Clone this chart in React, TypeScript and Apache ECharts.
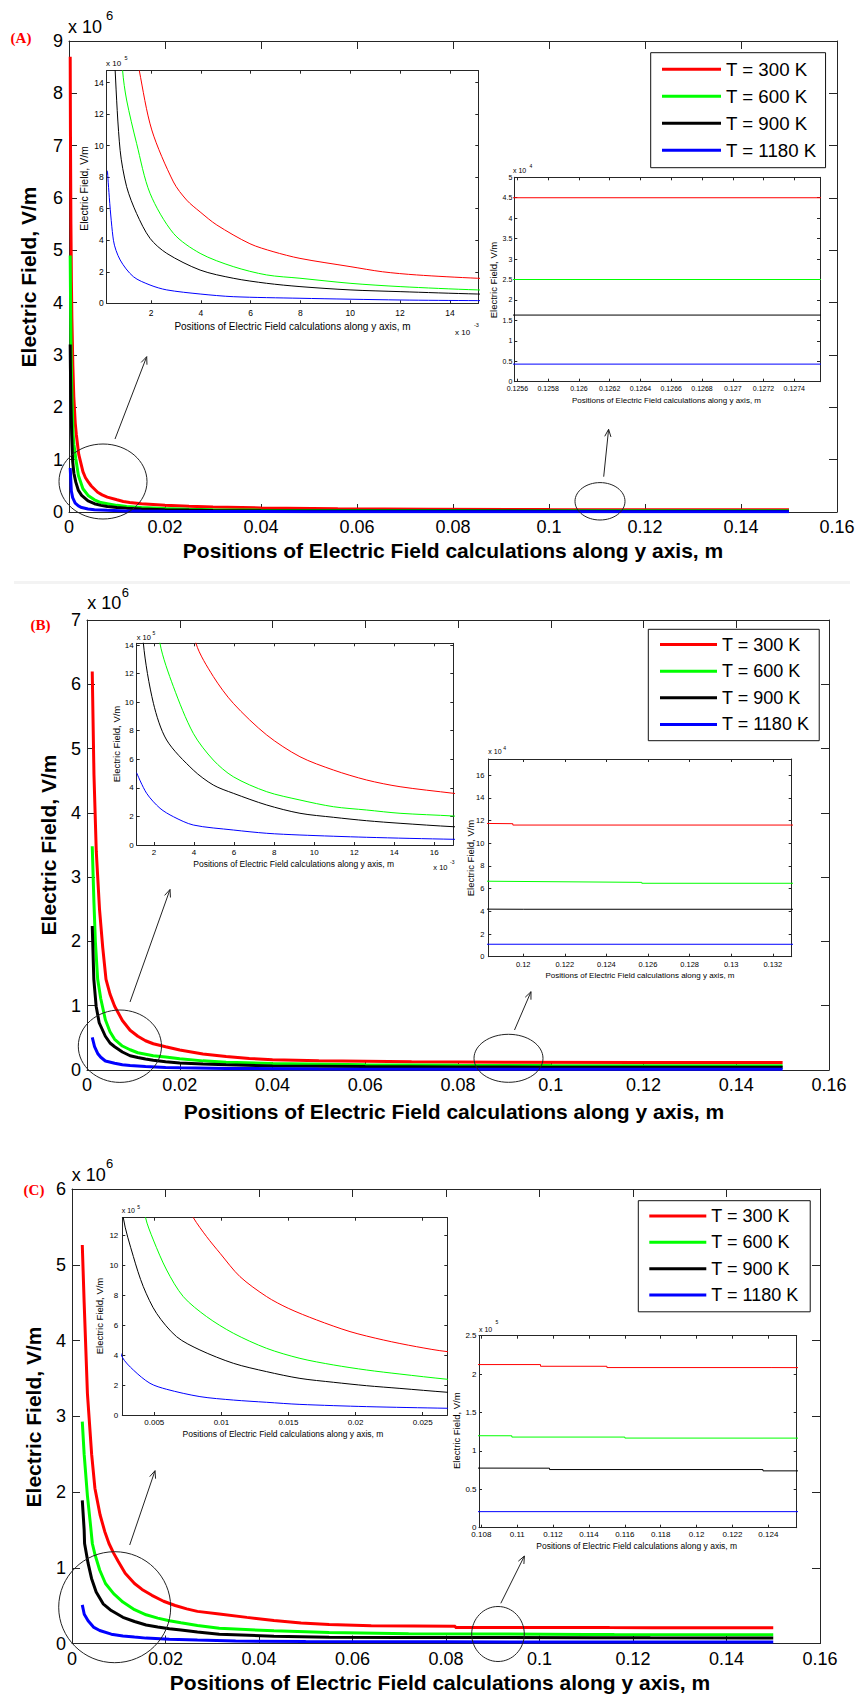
import React, { useEffect, useRef } from 'react';
import * as echarts from 'echarts';

type Pt = [number, number];

// Legend entries and line colours (one per temperature)
const SERIES_NAMES = ['T = 300 K', 'T = 600 K', 'T = 900 K', 'T = 1180 K'];
const SERIES_COLORS = ['#ff0000', '#00ff00', '#000000', '#0000ff'];

// ---------- Panel (A): position along y (m) vs electric field (V/m) ----------
const A_T300: Pt[] = [
  [0.00025, 8.7e6], [0.0003, 7.3e6], [0.0004, 5.5e6], [0.0005, 4.4e6], [0.0006, 3.7e6],
  [0.0008, 2.8e6], [0.001, 2.2e6], [0.0013, 1.7e6], [0.00153, 1.476e6], [0.00203, 1.1e6],
  [0.0029, 7.7e5], [0.00343, 6.55e5], [0.00397, 5.8e5], [0.00464, 4.97e5], [0.00597, 3.78e5],
  [0.0069, 3.28e5], [0.00798, 2.85e5], [0.00999, 2.33e5], [0.0113, 2.0e5], [0.01266, 1.8e5],
  [0.0151, 1.59e5], [0.02, 1.3e5], [0.025, 1.1e5], [0.03, 9.5e4], [0.04, 7.8e4],
  [0.056, 6.3e4], [0.075, 5.4e4], [0.1, 4.75e4], [0.115, 4.5e4], [0.15, 4.5e4],
];
const A_T600: Pt[] = [
  [0.00025, 4.9e6], [0.0003, 4.3e6], [0.0004, 3.3e6], [0.0005, 2.7e6], [0.0006, 2.25e6],
  [0.00086, 1.476e6], [0.00102, 1.29e6], [0.00142, 1.015e6], [0.00196, 6.98e5], [0.0029, 4.44e5],
  [0.00397, 3.17e5], [0.0053, 2.33e5], [0.00664, 1.8e5], [0.00798, 1.59e5], [0.00999, 1.27e5],
  [0.012, 1.06e5], [0.0151, 8.5e4], [0.02, 6.5e4], [0.025, 5.2e4], [0.03, 4.4e4],
  [0.04, 3.5e4], [0.06, 3.0e4], [0.08, 2.7e4], [0.11, 2.5e4], [0.15, 2.5e4],
];
const A_T900: Pt[] = [
  [0.00025, 3.2e6], [0.0003, 2.75e6], [0.0004, 2.1e6], [0.00056, 1.476e6], [0.00076, 9.7e5],
  [0.00102, 7.4e5], [0.00142, 5.7e5], [0.00196, 4.12e5], [0.00263, 3.17e5], [0.00397, 2.11e5],
  [0.0053, 1.59e5], [0.00664, 1.27e5], [0.00798, 1.06e5], [0.00999, 8.5e4], [0.012, 7.4e4],
  [0.0151, 5.9e4], [0.02, 4.5e4], [0.025, 3.6e4], [0.03, 3.0e4], [0.04, 2.4e4],
  [0.06, 1.9e4], [0.08, 1.7e4], [0.11, 1.63e4], [0.15, 1.63e4],
];
const A_T1180: Pt[] = [
  [0.00025, 8.41e5], [0.00049, 4.0e5], [0.00076, 2.75e5], [0.00129, 1.69e5], [0.00196, 1.16e5],
  [0.00263, 8.5e4], [0.00397, 5.9e4], [0.0053, 4.2e4], [0.00798, 3.2e4], [0.012, 2.1e4],
  [0.0151, 1.7e4], [0.02, 1.3e4], [0.03, 9e3], [0.05, 6e3], [0.08, 4.8e3],
  [0.11, 4.3e3], [0.15, 4.3e3],
];

// ---------- Panel (B) ----------
const B_T300: Pt[] = [
  [0.00113, 6.2e6], [0.0015, 4.6e6], [0.002, 3.4e6], [0.0027, 2.5e6], [0.0034, 1.9e6],
  [0.0041, 1.41e6], [0.00496, 1.18e6], [0.00596, 9.92e5], [0.00763, 7.7e5], [0.00929, 6.18e5],
  [0.01096, 5.25e5], [0.01262, 4.55e5], [0.01429, 4.08e5], [0.01695, 3.62e5], [0.02, 3.1e5],
  [0.025, 2.5e5], [0.03, 2.1e5], [0.035, 1.8e5], [0.04, 1.6e5], [0.05, 1.45e5],
  [0.07, 1.3e5], [0.09, 1.22e5], [0.1195, 1.172e5], [0.1195, 1.16e5], [0.15, 1.16e5],
];
const B_T600: Pt[] = [
  [0.00113, 3.48e6], [0.0015, 2.6e6], [0.0018, 2.0e6], [0.0023, 1.41e6], [0.00297, 1.108e6],
  [0.00396, 7.82e5], [0.00496, 5.95e5], [0.00596, 4.78e5], [0.00763, 3.73e5], [0.00929, 3.15e5],
  [0.01096, 2.68e5], [0.01262, 2.45e5], [0.01429, 2.22e5], [0.01695, 2.03e5], [0.02, 1.75e5],
  [0.025, 1.42e5], [0.03, 1.2e5], [0.04, 1.0e5], [0.06, 8.3e4], [0.08, 7.3e4],
  [0.1, 6.9e4], [0.1257, 6.55e4], [0.1257, 6.47e4], [0.15, 6.47e4],
];
const B_T900: Pt[] = [
  [0.00113, 2.24e6], [0.00147, 1.41e6], [0.00197, 9.92e5], [0.00263, 7.35e5], [0.00396, 5.25e5],
  [0.00496, 4.2e5], [0.00596, 3.62e5], [0.00763, 2.8e5], [0.00929, 2.22e5], [0.01096, 1.94e5],
  [0.01262, 1.7e5], [0.01429, 1.52e5], [0.01695, 1.28e5], [0.02, 1.1e5], [0.025, 9.2e4],
  [0.03, 8.0e4], [0.04, 6.4e4], [0.06, 5.3e4], [0.08, 4.7e4], [0.1, 4.3e4],
  [0.12, 4.18e4], [0.15, 4.18e4],
];
const B_T1180: Pt[] = [
  [0.00113, 5.06e5], [0.00163, 3.62e5], [0.0023, 2.57e5], [0.00297, 1.98e5], [0.00396, 1.4e5],
  [0.00596, 1.05e5], [0.00763, 8.2e4], [0.00929, 7.0e4], [0.01262, 5.4e4], [0.01695, 4.0e4],
  [0.02, 3.5e4], [0.03, 2.5e4], [0.05, 1.7e4], [0.08, 1.3e4], [0.11, 1.1e4], [0.15, 1.09e4],
];

// ---------- Panel (C) ----------
const C_T300: Pt[] = [
  [0.0022, 5.26e6], [0.0026, 4.5e6], [0.0033, 3.3e6], [0.0042, 2.5e6], [0.0049, 2.05e6],
  [0.006, 1.7e6], [0.007, 1.48e6], [0.00791, 1.32e6], [0.0089, 1.193e6], [0.0099, 1.082e6],
  [0.01138, 9.26e5], [0.01337, 7.92e5], [0.01498, 7.14e5], [0.01709, 6.36e5], [0.01958, 5.58e5],
  [0.02206, 5.02e5], [0.02454, 4.57e5], [0.02683, 4.24e5], [0.0315, 3.9e5], [0.0374, 3.45e5],
  [0.0432, 3.05e5], [0.049, 2.7e5], [0.055, 2.52e5], [0.064, 2.35e5], [0.082, 2.28e5],
  [0.082, 2.124e5], [0.1113, 2.124e5], [0.1113, 2.102e5], [0.115, 2.102e5], [0.115, 2.085e5],
  [0.1242, 2.085e5], [0.1242, 2.076e5], [0.15, 2.07e5],
];
const C_T600: Pt[] = [
  [0.0022, 2.93e6], [0.0026, 2.5e6], [0.0033, 1.95e6], [0.0039, 1.6e6], [0.00435, 1.32e6],
  [0.00493, 1.171e6], [0.00592, 9.7e5], [0.00716, 7.92e5], [0.0089, 6.58e5], [0.01089, 5.47e5],
  [0.01337, 4.46e5], [0.01585, 3.79e5], [0.01834, 3.35e5], [0.02082, 3.01e5], [0.0233, 2.74e5],
  [0.02683, 2.39e5], [0.0315, 2.0e5], [0.0432, 1.67e5], [0.055, 1.45e5], [0.072, 1.3e5],
  [0.072, 1.21e5], [0.1097, 1.197e5], [0.1097, 1.18e5], [0.116, 1.18e5], [0.116, 1.167e5],
  [0.15, 1.165e5],
];
const C_T900: Pt[] = [
  [0.0022, 1.89e6], [0.0026, 1.5e6], [0.00269, 1.32e6], [0.00344, 1.06e6], [0.00418, 8.59e5],
  [0.00517, 6.8e5], [0.00666, 5.24e5], [0.0084, 4.35e5], [0.01089, 3.46e5], [0.01337, 2.9e5],
  [0.01585, 2.45e5], [0.01834, 2.19e5], [0.02082, 1.96e5], [0.0233, 1.78e5], [0.02683, 1.52e5],
  [0.0315, 1.23e5], [0.0432, 9.7e4], [0.055, 8.2e4], [0.07, 7.85e4], [0.1118, 7.75e4],
  [0.1118, 7.57e4], [0.1237, 7.57e4], [0.1237, 7.4e4], [0.15, 7.4e4],
];
const C_T1180: Pt[] = [
  [0.0022, 5.1e5], [0.00262, 3.86e5], [0.00344, 3.01e5], [0.00468, 2.12e5], [0.00592, 1.72e5],
  [0.0084, 1.23e5], [0.01089, 1.0e5], [0.01337, 8.5e4], [0.01585, 7.1e4], [0.02082, 5.6e4],
  [0.02683, 4.5e4], [0.035, 3.2e4], [0.05, 2.5e4], [0.08, 2.2e4], [0.1, 2.09e4], [0.15, 2.09e4],
];

const PANEL_A = [A_T300, A_T600, A_T900, A_T1180];
const PANEL_B = [B_T300, B_T600, B_T900, B_T1180];
const PANEL_C = [C_T300, C_T600, C_T900, C_T1180];

const FONT = 'Liberation Sans, Arial, Helvetica, sans-serif';
const SERIF = 'Liberation Serif, Times New Roman, serif';
const AXIS_COLOR = '#262626';
const X_TITLE = 'Positions of Electric Field calculations along y axis, m';
const Y_TITLE = 'Electric Field, V/m';

interface PlotSpec {
  rect: [number, number, number, number];
  x: [number, number, number];
  y: [number, number, number];
  sx: number;
  sy: number;
  lineWidth: number;
  smooth: number | false;
  font: number;
  xMargin: number;
  yMargin: number;
  tick: number;
  data: Pt[][];
}

const PLOTS: PlotSpec[] = [
  // (A) main, zoom near origin, zoom on the tail
  { rect: [69, 41, 768, 471], x: [0, 0.16, 0.02], y: [0, 9, 1], sx: 1, sy: 1e-6, lineWidth: 3, smooth: false, font: 18, xMargin: 6, yMargin: 6, tick: 8, data: PANEL_A },
  { rect: [106.7, 70.7, 371.6, 232.6], x: [0.22, 15.14, 2], y: [0, 14.76, 2], sx: 1e3, sy: 1e-5, lineWidth: 1, smooth: 0.3, font: 8.5, xMargin: 5, yMargin: 3, tick: 3, data: PANEL_A },
  { rect: [514.3, 177.3, 305.7, 204.4], x: [0.12558, 0.127567, 0.0002], y: [0, 5, 0.5], sx: 1, sy: 1e-4, lineWidth: 1, smooth: false, font: 7, xMargin: 3, yMargin: 2, tick: 3, data: PANEL_A },
  // (B)
  { rect: [87, 620, 742, 450], x: [0, 0.16, 0.02], y: [0, 7, 1], sx: 1, sy: 1e-6, lineWidth: 3, smooth: false, font: 18, xMargin: 6, yMargin: 6, tick: 8, data: PANEL_B },
  { rect: [136.7, 643.3, 316.6, 201.7], x: [1.135, 16.95, 2], y: [0, 14.12, 2], sx: 1e3, sy: 1e-5, lineWidth: 1, smooth: 0.3, font: 8, xMargin: 3, yMargin: 3, tick: 3, data: PANEL_B },
  { rect: [488.3, 759, 303.4, 197.7], x: [0.11832, 0.13291, 0.002], y: [0, 17.42, 2], sx: 1, sy: 1e-4, lineWidth: 1, smooth: false, font: 7.5, xMargin: 4, yMargin: 4, tick: 3, data: PANEL_B },
  // (C)
  { rect: [72, 1189, 748, 454.5], x: [0, 0.16, 0.02], y: [0, 6, 1], sx: 1, sy: 1e-6, lineWidth: 3, smooth: false, font: 18, xMargin: 6, yMargin: 6, tick: 8, data: PANEL_C },
  { rect: [122.3, 1217.7, 325, 197.3], x: [0.002616, 0.02683, 0.005], y: [0, 13.2, 2], sx: 1, sy: 1e-5, lineWidth: 1, smooth: 0.3, font: 8, xMargin: 3, yMargin: 4, tick: 3, data: PANEL_C },
  { rect: [479, 1335.7, 317.7, 192], x: [0.10787, 0.12558, 0.002], y: [0, 2.5, 0.5], sx: 1, sy: 1e-5, lineWidth: 1, smooth: false, font: 8, xMargin: 3, yMargin: 2.5, tick: 3, data: PANEL_C },
];

const isMultiple = (v: number, step: number) => Math.abs(v / step - Math.round(v / step)) < 1e-6;

function valueAxis(gridIndex: number, position: string, range: [number, number, number], p: PlotSpec, labels: boolean, isX: boolean) {
  const [min, max, step] = range;
  return {
    type: 'value',
    gridIndex,
    position,
    min,
    max,
    minInterval: step,
    maxInterval: step,
    splitNumber: Math.round((max - min) / step),
    axisLine: { show: true, onZero: false, lineStyle: { color: AXIS_COLOR, width: 1 } },
    axisTick: { show: true, inside: true, length: p.tick, lineStyle: { color: AXIS_COLOR, width: 1 } },
    axisLabel: {
      show: labels,
      color: '#000',
      fontFamily: FONT,
      fontSize: p.font,
      margin: isX ? p.xMargin : p.yMargin,
      showMinLabel: isMultiple(min, step),
      showMaxLabel: isMultiple(max, step),
      hideOverlap: false,
    },
    splitLine: { show: false },
  };
}

function text(t: string, x: number, y: number, size: number, o: any = {}) {
  const align = o.align || 'center';
  return {
    type: 'text',
    x,
    y,
    rotation: o.rotate ? Math.PI / 2 : 0,
    silent: true,
    z: 10,
    style: {
      text: t,
      fontSize: size,
      fontFamily: o.family || FONT,
      fontWeight: o.bold ? 'bold' : 'normal',
      fill: o.color || '#000',
      textAlign: align,
      align,
      textVerticalAlign: 'middle',
      verticalAlign: 'middle',
    },
  };
}

function ellipse(cx: number, cy: number, rx: number, ry: number) {
  return {
    type: 'ellipse',
    silent: true,
    z: 10,
    shape: { cx, cy, rx, ry },
    style: { fill: 'none', stroke: '#222', lineWidth: 1 },
  };
}

function arrow(x1: number, y1: number, x2: number, y2: number) {
  const ang = Math.atan2(y2 - y1, x2 - x1);
  const len = 8;
  const spread = 0.4;
  const h1: Pt = [x2 - len * Math.cos(ang - spread), y2 - len * Math.sin(ang - spread)];
  const h2: Pt = [x2 - len * Math.cos(ang + spread), y2 - len * Math.sin(ang + spread)];
  return [
    { type: 'line', silent: true, z: 10, shape: { x1, y1, x2, y2 }, style: { stroke: '#222', lineWidth: 1 } },
    { type: 'polyline', silent: true, z: 10, shape: { points: [h1, [x2, y2], h2] }, style: { stroke: '#222', lineWidth: 1, fill: 'none' } },
  ];
}

function legend(left: number, top: number, fontSize: number, rowH: number, iconW: number, padding: number[]) {
  return {
    show: true,
    data: SERIES_NAMES,
    orient: 'vertical',
    left,
    top,
    padding,
    itemGap: 0,
    itemWidth: iconW,
    itemHeight: 3,
    icon: 'rect',
    selectedMode: false,
    borderColor: '#111',
    borderWidth: 1,
    backgroundColor: '#fff',
    textStyle: { fontSize, fontFamily: FONT, color: '#000', lineHeight: rowH },
  };
}

function buildOption() {
  const grid: any[] = [];
  const xAxis: any[] = [];
  const yAxis: any[] = [];
  const series: any[] = [];

  PLOTS.forEach((p, gi) => {
    const [left, top, width, height] = p.rect;
    grid.push({ left, top, width, height, containLabel: false, outerBoundsMode: 'none', show: false });
    xAxis.push(valueAxis(gi, 'bottom', p.x, p, true, true));
    xAxis.push(valueAxis(gi, 'top', p.x, p, false, true));
    yAxis.push(valueAxis(gi, 'left', p.y, p, true, false));
    yAxis.push(valueAxis(gi, 'right', p.y, p, false, false));
    p.data.forEach((pts, k) => {
      series.push({
        type: 'line',
        name: SERIES_NAMES[k],
        xAxisIndex: gi * 2,
        yAxisIndex: gi * 2,
        data: pts.map(([x, y]) => [x * p.sx, y * p.sy]),
        showSymbol: false,
        symbol: 'none',
        smooth: p.smooth,
        color: SERIES_COLORS[k],
        lineStyle: { color: SERIES_COLORS[k], width: p.lineWidth },
        clip: true,
        silent: true,
        z: 2 + k * 0.1,
      });
    });
  });

  const graphic: any[] = [
    // faint rule between panels A and B
    { type: 'rect', silent: true, shape: { x: 14, y: 581, width: 836, height: 3 }, style: { fill: '#f3f3f3' } },

    // ---- panel A ----
    text('(A)', 21, 38, 15, { family: SERIF, bold: true, color: '#ff0000' }),
    text('x 10', 68, 27, 18, { align: 'left' }),
    text('6', 106, 15.5, 13, { align: 'left' }),
    text(Y_TITLE, 28.5, 277, 21, { bold: true, rotate: true }),
    text(X_TITLE, 453, 550, 21, { bold: true }),
    text(Y_TITLE, 83.5, 188.5, 10.5, { rotate: true }),
    text(X_TITLE, 292.5, 326.7, 10),
    text('x 10', 106, 63.5, 8, { align: 'left' }),
    text('5', 124.5, 57.5, 5.5, { align: 'left' }),
    text('x 10', 455, 332, 8, { align: 'left' }),
    text('-3', 474, 324.5, 5.5, { align: 'left' }),
    text(Y_TITLE, 493.3, 280, 9.5, { rotate: true }),
    text(X_TITLE, 666.5, 400, 8),
    text('x 10', 513, 170, 7, { align: 'left' }),
    text('4', 529.5, 166, 5, { align: 'left' }),
    ellipse(103, 481.5, 44, 37.5),
    ellipse(600, 501.3, 25, 18.7),
    ...arrow(115, 439, 146.7, 356.7),
    ...arrow(603.7, 476.7, 608.6, 429.3),

    // ---- panel B ----
    text('(B)', 40.5, 624.5, 15, { family: SERIF, bold: true, color: '#ff0000' }),
    text('x 10', 87.3, 602.5, 18, { align: 'left' }),
    text('6', 121.7, 592.5, 13, { align: 'left' }),
    text(Y_TITLE, 48, 845, 21, { bold: true, rotate: true }),
    text(X_TITLE, 454, 1111, 21, { bold: true }),
    text(Y_TITLE, 116, 744, 9.5, { rotate: true }),
    text(X_TITLE, 293.7, 864, 8.5),
    text('x 10', 136.7, 637.3, 7.5, { align: 'left' }),
    text('5', 152.5, 633, 5, { align: 'left' }),
    text('x 10', 433.3, 867.3, 7.5, { align: 'left' }),
    text('-3', 450, 862, 5, { align: 'left' }),
    text(Y_TITLE, 470, 858, 9.5, { rotate: true }),
    text(X_TITLE, 640, 975.7, 8),
    text('x 10', 488.3, 751.7, 7, { align: 'left' }),
    text('4', 503.3, 748, 5, { align: 'left' }),
    ellipse(119.9, 1046.2, 41.6, 36.2),
    ellipse(508.5, 1058.3, 34.5, 24),
    ...arrow(130, 1002, 170, 889.5),
    ...arrow(514.5, 1030, 531, 991.7),

    // ---- panel C ----
    text('(C)', 34, 1190, 15, { family: SERIF, bold: true, color: '#ff0000' }),
    text('x 10', 71.7, 1174.5, 18, { align: 'left' }),
    text('6', 106, 1163.5, 13, { align: 'left' }),
    text(Y_TITLE, 33.5, 1417, 21, { bold: true, rotate: true }),
    text(X_TITLE, 440, 1682, 21, { bold: true }),
    text(Y_TITLE, 99.3, 1316, 9.5, { rotate: true }),
    text(X_TITLE, 283, 1433.7, 8.5),
    text('x 10', 121.7, 1210.7, 7, { align: 'left' }),
    text('5', 137.3, 1206.7, 5, { align: 'left' }),
    text(Y_TITLE, 456.7, 1430.7, 9.5, { rotate: true }),
    text(X_TITLE, 636.7, 1545.7, 8.5),
    text('x 10', 479, 1329, 7, { align: 'left' }),
    text('5', 495.5, 1322, 5, { align: 'left' }),
    ellipse(114.7, 1607.2, 56, 55.5),
    ellipse(498, 1634, 26.3, 27.5),
    ...arrow(129.7, 1545, 155, 1470.7),
    ...arrow(500.8, 1603.3, 524.4, 1556),
  ];

  return {
    animation: false,
    backgroundColor: '#fff',
    grid,
    xAxis,
    yAxis,
    series,
    legend: [
      legend(650.7, 52.7, 18.7, 27, 59, [3, 9, 4, 11.3]),
      legend(648.3, 629.3, 18, 26.6, 57, [2, 10, 3, 11.7]),
      legend(638.3, 1200.7, 18, 26.4, 57, [2, 11.7, 3.5, 11]),
    ],
    graphic,
  };
}

export default function App() {
  const ref = useRef<HTMLDivElement | null>(null);

  useEffect(() => {
    if (!ref.current) return;
    const chart = echarts.init(ref.current, null, { renderer: 'svg' });
    chart.setOption(buildOption() as any);
    return () => chart.dispose();
  }, []);

  return (
    <div
      ref={ref}
      style={{ position: 'absolute', left: 0, top: 0, width: 858, height: 1697, background: '#fff' }}
    />
  );
}
